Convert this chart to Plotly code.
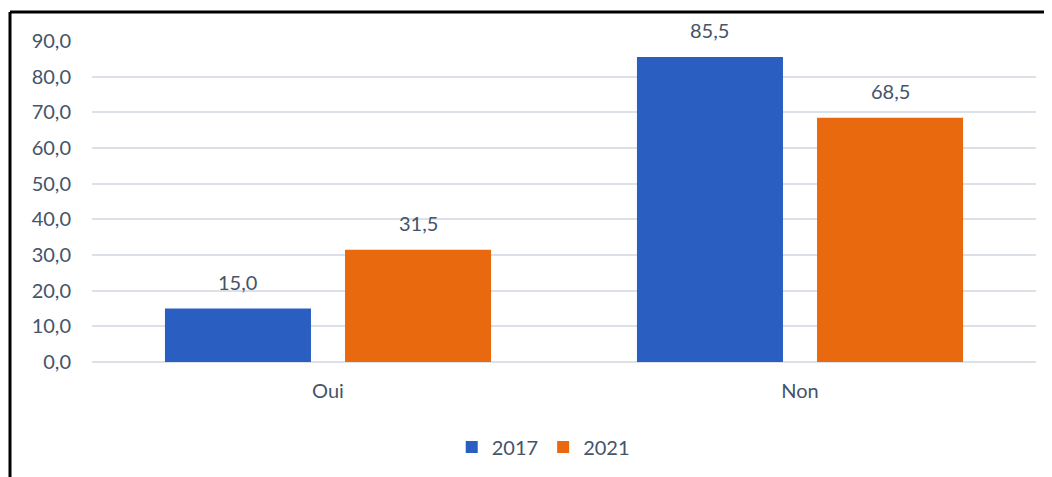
import plotly.graph_objects as go

categories = ["Oui", "Non"]
years = ["2017", "2021"]
values_2017 = [15.0, 85.5]
values_2021 = [31.5, 68.5]
y_ticks = [0, 10, 20, 30, 40, 50, 60, 70, 80, 90]

text_color = "#44546A"
font_family = "Lato, Open Sans, sans-serif"
colors = ["#2A5EC0", "#E9690F"]

BARGAP, GROUPGAP = 0.237, 0.189


def fmt(v):
    return f"{v:.1f}".replace(".", ",")


fig = go.Figure()
for name, vals, col in zip(years, [values_2017, values_2021], colors):
    fig.add_trace(go.Bar(
        name=name, x=categories, y=vals,
        marker=dict(color=col, line=dict(width=0)),
    ))

# value labels (placed over each bar of the group)
slot = (1 - BARGAP) / 2
annotations = []
for k, vals in enumerate([values_2017, values_2021]):
    off = (k - 0.5) * slot
    for i, v in enumerate(vals):
        annotations.append(dict(
            x=i + off, y=v, xref="x", yref="y", text=fmt(v),
            showarrow=False, yanchor="bottom", yshift=13,
            font=dict(size=20, color=text_color, family=font_family),
        ))

# Page body has an 8px margin; size the figure to fit the window
W, H = 1044, 469
L, R, T, B = 84, 16, 33, 114
pw, ph = W - L - R, H - T - B

fig.update_layout(
    width=W, height=H,
    margin=dict(l=L, r=R, t=T, b=B),
    paper_bgcolor="white", plot_bgcolor="white",
    separators=", ",
    barmode="group", bargap=BARGAP, bargroupgap=GROUPGAP,
    font=dict(family=font_family, size=20, color=text_color),
    showlegend=True,
    legend=dict(orientation="h", x=0.478, xanchor="center",
                y=(355 - 439) / ph, yanchor="middle",
                font=dict(size=20, color=text_color),
                itemwidth=30, traceorder="normal"),
    xaxis=dict(showgrid=False, showline=False, ticks="",
               ticklabelstandoff=15, tickfont=dict(size=20, color=text_color)),
    yaxis=dict(range=[0, 90], tickvals=y_ticks, tickformat=".1f",
               showgrid=True, gridcolor="#DCE1E7", gridwidth=1.5,
               zeroline=True, zerolinecolor="#DCE1E7", zerolinewidth=1.5,
               showline=False, ticks="", ticklabelstandoff=20,
               tickfont=dict(size=20, color=text_color)),
    annotations=annotations,
    shapes=[
        dict(type="line", xref="paper", yref="paper",
             x0=(2 - L) / pw, x1=(W + 5 - L) / pw,
             y0=1 + (T - 4) / ph, y1=1 + (T - 4) / ph,
             line=dict(color="black", width=3)),
        dict(type="line", xref="paper", yref="paper",
             x0=(2 - L) / pw, x1=(2 - L) / pw,
             y0=1 + (T - 4) / ph, y1=-(B + 5) / ph,
             line=dict(color="black", width=3)),
    ],
)

fig.write_html("out.html")
